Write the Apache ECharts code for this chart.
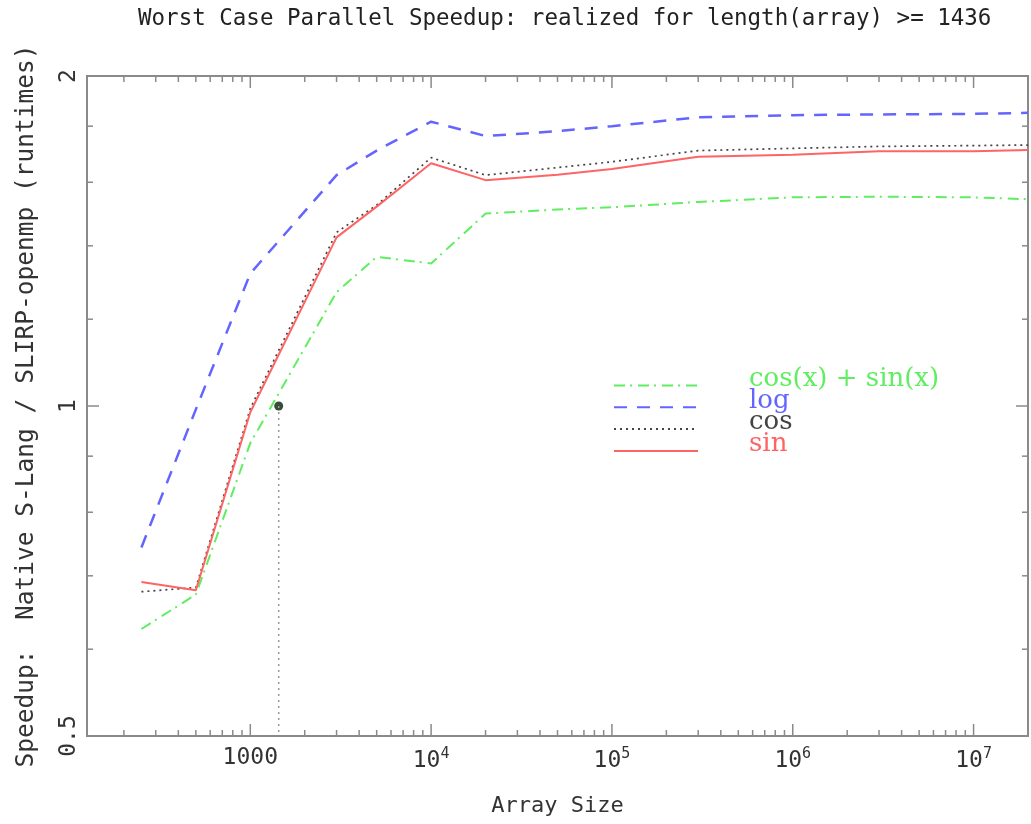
<!DOCTYPE html>
<html>
<head>
<meta charset="utf-8">
<script src="https://cdn.jsdelivr.net/npm/echarts@6/dist/echarts.min.js"></script>
<style>
html,body{margin:0;padding:0;background:#fff;}
#chart{width:1031px;height:824px;}
</style>
</head>
<body>
<div id="chart"></div>
<script>
// ---- data ----
const arraySizes = [250, 500, 1000, 3000, 5000, 10000, 20000, 50000, 100000, 300000, 1000000, 3000000, 10000000, 20000000];
const sinSpeedup    = [0.691, 0.679, 0.987, 1.425, 1.520, 1.665, 1.607, 1.625, 1.645, 1.688, 1.695, 1.708, 1.708, 1.712];
const cosSpeedup    = [0.677, 0.683, 0.995, 1.440, 1.525, 1.685, 1.624, 1.650, 1.670, 1.710, 1.718, 1.725, 1.728, 1.730];
const logSpeedup    = [0.743, 0.993, 1.321, 1.624, 1.710, 1.817, 1.763, 1.781, 1.800, 1.834, 1.842, 1.845, 1.847, 1.851];
const cosSinSpeedup = [0.626, 0.673, 0.925, 1.270, 1.368, 1.349, 1.498, 1.511, 1.518, 1.535, 1.550, 1.552, 1.550, 1.544];
const breakEvenSize = 1436;
const breakEvenSpeedup = 1;

const xMin = 125, xMax = 20000000;
const yMin = 0.5, yMax = 2;
const xMajorTicks = [1000, 10000, 100000, 1000000, 10000000];
const xMinorTicks = [200,300,400,500,600,700,800,900,
  2000,3000,4000,5000,6000,7000,8000,9000,
  20000,30000,40000,50000,60000,70000,80000,90000,
  200000,300000,400000,500000,600000,700000,800000,900000,
  2000000,3000000,4000000,5000000,6000000,7000000,8000000,9000000];
const yMajorTicks = [0.5, 1, 2];
const yMinorTicks = [0.6, 0.7, 0.8, 0.9, 1.2, 1.4, 1.6, 1.8];

const titleText = 'Worst Case Parallel Speedup: realized for length(array) >= 1436';
const xName = 'Array Size';
const yName = 'Speedup:  Native S-Lang / SLIRP-openmp (runtimes)';

// ---- styles ----
const C_SIN = '#ff6464', C_COS = '#444444', C_LOG = '#6464ff', C_CS = '#5fee5f';
const AXIS_C = '#8a8a8a';
const MONO = "'DejaVu Sans Mono', monospace";

function pairs(vals){ return arraySizes.map((x,i)=>[x, vals[i]]); }

const xTickData = xMajorTicks.map(v=>[v, 1, 1]).concat(xMinorTicks.map(v=>[v, 1, 0]));
const yTickData = yMajorTicks.map(v=>[1000, v, 1]).concat(yMinorTicks.map(v=>[1000, v, 0]));

const chart = echarts.init(document.getElementById('chart'), null, {renderer:'canvas'});

function legendRich(color){
  return {
    t: {fontFamily: "'DejaVu Serif', serif", fontSize: 26, lineHeight: 14, color: color},
    s: {fontSize: 10, lineHeight: 13, color: color}
  };
}

chart.setOption({
  backgroundColor: '#fff',
  animation: false,
  title: {
    text: titleText, left: 138, top: 8, padding: 0,
    textStyle: {fontFamily: MONO, fontSize: 22.5, fontWeight: 'normal', color: '#222'}
  },
  grid: {left: 87, right: 1, top: 76, bottom: 88, show: true, borderColor: AXIS_C, borderWidth: 2, backgroundColor: 'transparent'},
  legend: {
    orient: 'vertical', left: 613, top: 366, padding: 0, itemGap: -9.7,
    itemWidth: 84, itemHeight: 10,
    itemStyle: {opacity: 0},
    formatter: function(name){ return '{t|' + name + '}\n{s| }'; },
    data: [
      {name: 'cos(x) + sin(x)', textStyle: {color: C_CS, rich: legendRich(C_CS)}},
      {name: 'log', textStyle: {color: C_LOG, rich: legendRich(C_LOG)}},
      {name: 'cos', textStyle: {color: C_COS, rich: legendRich(C_COS)}},
      {name: 'sin', textStyle: {color: C_SIN, rich: legendRich(C_SIN)}}
    ],
    textStyle: {fontFamily: "'DejaVu Serif', serif", fontSize: 26, padding: [0,0,0,46]}
  },
  xAxis: {
    type: 'log', logBase: 10, min: xMin, max: xMax,
    name: xName, nameLocation: 'middle', nameGap: 59,
    nameTextStyle: {fontFamily: MONO, fontSize: 22, color: '#333'},
    axisLine: {show: false}, axisTick: {show: false}, splitLine: {show: false}, minorTick: {show: false},
    axisLabel: {
      margin: 11, fontFamily: MONO, fontSize: 23, color: '#333',
      showMinLabel: true, showMaxLabel: true,
      formatter: function(v){
        const e = Math.log10(v);
        if (Math.abs(e - Math.round(e)) > 1e-6) return '';
        const k = Math.round(e);
        if (k === 3) return '1000';
        return '10{sup|' + k + '}';
      },
      rich: {sup: {fontFamily: MONO, fontSize: 15, color: '#333', padding: [0,0,14,0]}}
    }
  },
  yAxis: {
    type: 'log', logBase: 2, min: yMin, max: yMax,
    name: yName, nameLocation: 'middle', nameGap: 48, nameRotate: 90,
    nameTextStyle: {fontFamily: MONO, fontSize: 24.5, color: '#333'},
    axisLine: {show: false}, axisTick: {show: false}, splitLine: {show: false}, minorTick: {show: false},
    axisLabel: {
      margin: 6, rotate: 90, fontFamily: MONO, fontSize: 23, color: '#333',
      formatter: function(v){
        const r = Math.round(v*10)/10;
        return (r === 0.5 || r === 1 || r === 2) ? String(r) : '';
      }
    }
  },
  series: [
    {
      type: 'custom', name: 'xticks', silent: true, z: 1,
      encode: {x: 0, y: 1},
      data: xTickData,
      renderItem: function(params, api){
        const v = api.value(0), len = api.value(2) ? 12 : 6;
        const b = api.coord([v, yMin]), t = api.coord([v, yMax]);
        const st = {stroke: AXIS_C, lineWidth: 1.5};
        return {type: 'group', children: [
          {type: 'line', shape: {x1: b[0], y1: b[1], x2: b[0], y2: b[1] - len}, style: st},
          {type: 'line', shape: {x1: t[0], y1: t[1], x2: t[0], y2: t[1] + len}, style: st}
        ]};
      }
    },
    {
      type: 'custom', name: 'yticks', silent: true, z: 1,
      encode: {x: 0, y: 1},
      data: yTickData,
      renderItem: function(params, api){
        const v = api.value(1), len = api.value(2) ? 12 : 6;
        const l = api.coord([xMin, v]), r = api.coord([xMax, v]);
        const st = {stroke: AXIS_C, lineWidth: 1.5};
        return {type: 'group', children: [
          {type: 'line', shape: {x1: l[0], y1: l[1], x2: l[0] + len, y2: l[1]}, style: st},
          {type: 'line', shape: {x1: r[0], y1: r[1], x2: r[0] - len, y2: r[1]}, style: st}
        ]};
      }
    },
    {
      type: 'line', name: 'breakeven', silent: true, symbol: 'none',
      data: [[breakEvenSize, breakEvenSpeedup], [breakEvenSize, yMin]],
      lineStyle: {color: '#999', width: 1.5, type: [2, 4]}
    },
    {
      type: 'line', name: 'cos(x) + sin(x)', symbol: 'none', data: pairs(cosSinSpeedup),
      itemStyle: {color: C_CS}, lineStyle: {color: C_CS, width: 2, type: [11, 5, 2, 6]}
    },
    {
      type: 'line', name: 'log', symbol: 'none', data: pairs(logSpeedup),
      itemStyle: {color: C_LOG}, lineStyle: {color: C_LOG, width: 2.5, type: [13, 10]}
    },
    {
      type: 'line', name: 'cos', symbol: 'none', data: pairs(cosSpeedup),
      itemStyle: {color: C_COS}, lineStyle: {color: C_COS, width: 1.7, type: [2, 4]}
    },
    {
      type: 'line', name: 'sin', symbol: 'none', data: pairs(sinSpeedup),
      itemStyle: {color: C_SIN}, lineStyle: {color: C_SIN, width: 2}
    },
    {
      type: 'scatter', name: 'breakevenPoint', silent: true, symbolSize: 9,
      data: [[breakEvenSize, breakEvenSpeedup]],
      itemStyle: {color: '#062006'}
    }
  ]
});
</script>
</body>
</html>
